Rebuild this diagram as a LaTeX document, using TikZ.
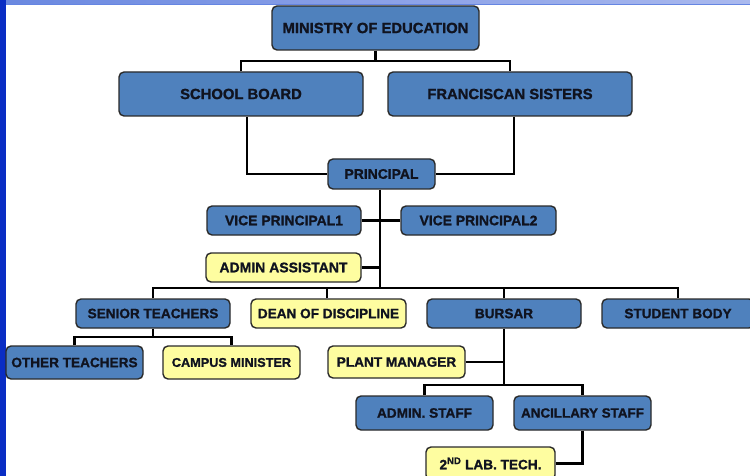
\documentclass[tikz,border=0pt]{standalone}
\usepackage{fontspec}
\setmainfont{Liberation Sans}[BoldFeatures={FakeBold=1.2}]
\definecolor{boxblue}{HTML}{4F81BD}
\definecolor{boxyellow}{HTML}{FEFDA0}
\definecolor{txt}{HTML}{10131F}
\definecolor{edge}{HTML}{2A2A2A}
\definecolor{stripdark}{HTML}{0A2DC4}
\definecolor{stripa}{HTML}{6A88E0}
\definecolor{stripb}{HTML}{AAB9EE}
\definecolor{stripline}{HTML}{6585E2}
\begin{document}
\begin{tikzpicture}[x=1pt,y=-1pt,
  orgbox/.style={draw=edge, line width=1.4pt, rounded corners=5pt, inner sep=0pt,
    text=txt, font=\bfseries\fontsize{13.6}{15}\selectfont, anchor=center},
  bluebox/.style={orgbox, fill=boxblue},
  yellowbox/.style={orgbox, fill=boxyellow},
  bigtext/.style={font=\bfseries\fontsize{14.8}{16}\selectfont},
  link/.style={draw=black, line width=2.2pt}]
\clip (0,0) rectangle (750,476);
\fill[white] (0,0) rectangle (750,476);
\shade[left color=stripa, right color=stripb] (0,0) rectangle (750,4);
\draw[stripline, line width=1pt] (0,4.5) -- (750,4.5);
\fill[stripdark] (0,0) rectangle (5.5,476);

% nodes
\node[bluebox, bigtext, minimum width=207pt, minimum height=44pt] (min) at (375.5,28) {MINISTRY OF EDUCATION};
\node[bluebox, bigtext, minimum width=244pt, minimum height=44pt] (sb) at (241,94) {SCHOOL BOARD};
\node[bluebox, bigtext, minimum width=244pt, minimum height=44pt] (fs) at (510,94) {FRANCISCAN SISTERS};
\node[bluebox, font=\bfseries\fontsize{13.9}{15}\selectfont, minimum width=107pt, minimum height=30pt] (pr) at (381.5,174) {PRINCIPAL};
\node[bluebox, font=\bfseries\fontsize{13.9}{15}\selectfont, minimum width=154pt, minimum height=29pt] (vp1) at (284,220.5) {VICE PRINCIPAL1};
\node[bluebox, font=\bfseries\fontsize{13.9}{15}\selectfont, minimum width=155pt, minimum height=29pt] (vp2) at (478.5,220.5) {VICE PRINCIPAL2};
\node[yellowbox, font=\bfseries\fontsize{14}{15}\selectfont, minimum width=155pt, minimum height=29pt] (aa) at (283.5,267.5) {ADMIN ASSISTANT};
\node[bluebox, minimum width=154pt, minimum height=29pt] (st) at (153,313.5) {SENIOR TEACHERS};
\node[yellowbox, minimum width=155pt, minimum height=29pt] (dd) at (328.5,313.5) {DEAN OF DISCIPLINE};
\node[bluebox, minimum width=154pt, minimum height=29pt] (bu) at (504,313.5) {BURSAR};
\node[bluebox, minimum width=152pt, minimum height=29pt] (body) at (678,313.5) {STUDENT BODY};
\node[bluebox, minimum width=137pt, minimum height=33pt] (ot) at (74.5,362.5) {OTHER TEACHERS};
\node[yellowbox, font=\bfseries\fontsize{12.7}{14}\selectfont, minimum width=137pt, minimum height=33pt] (cm) at (231.5,362.5) {CAMPUS MINISTER};
\node[yellowbox, minimum width=137pt, minimum height=32pt] (pm) at (396.5,362) {PLANT MANAGER};
\node[bluebox, minimum width=137pt, minimum height=34pt] (as) at (424.5,413) {ADMIN. STAFF};
\node[bluebox, font=\bfseries\fontsize{13.4}{15}\selectfont, minimum width=137pt, minimum height=34pt] (an) at (582.5,413) {ANCILLARY STAFF};
\node[yellowbox, minimum width=129pt, minimum height=33pt] (lt) at (490.5,463.5) {2\textsuperscript{ND} LAB. TECH.};

% junctions
\coordinate (j1) at (375.5,61);
\coordinate (j2) at (380,288);
\coordinate (j3) at (153,337);
\coordinate (j4) at (504,385);

% connectors
\draw[link] (min.south) -- (j1);
\draw[link] (sb.north) -- (sb.north |- j1) -- (fs.north |- j1) -- (fs.north);
\draw[link] ([xshift=6pt]sb.south) |- (pr.west);
\draw[link] ([xshift=4pt]fs.south) |- (pr.east);
\draw[link] (pr.south -| j2) -- (j2);
\draw[link] (vp1.east) -- (vp1.east -| j2);
\draw[link] (vp2.west) -- (vp2.west -| j2);
\draw[link] (aa.east) -- (aa.east -| j2);
\draw[link] (st.north) -- (st.north |- j2) -- (body.north |- j2) -- (body.north);
\draw[link] ([xshift=-1.5pt]dd.north) -- ([xshift=-1.5pt]dd.north |- j2);
\draw[link] (bu.north) -- (bu.north |- j2);
\draw[link] (st.south) -- (j3);
\draw[link] (ot.north) -- (ot.north |- j3) -- (cm.north |- j3) -- (cm.north);
\draw[link] (bu.south) -- (j4);
\draw[link] (pm.east) -- (pm.east -| j4);
\draw[link] (as.north) -- (as.north |- j4) -- (an.north |- j4) -- (an.north);
\draw[link] (an.south) |- (lt.east);
\end{tikzpicture}
\end{document}
